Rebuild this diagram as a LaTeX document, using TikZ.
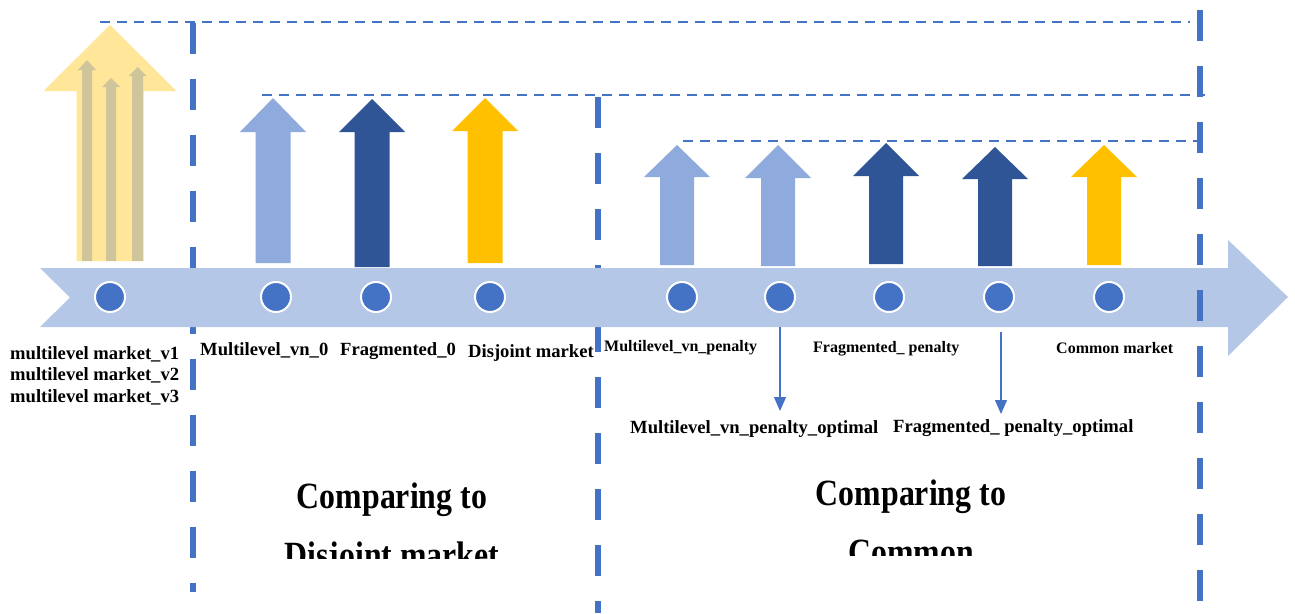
\documentclass[tikz,border=0pt]{standalone}
\usepackage{fontspec}
\setmainfont{Liberation Serif}
\usetikzlibrary{arrows.meta}
\definecolor{bandc}{HTML}{B4C7E7}
\definecolor{dotc}{HTML}{4472C4}
\definecolor{lightc}{HTML}{8FAADC}
\definecolor{darkc}{HTML}{2F5597}
\definecolor{goldc}{HTML}{FFC000}
\definecolor{palec}{HTML}{FFE699}
\definecolor{tanc}{HTML}{CFC59B}
% block arrow: color, cx, tip y, head base y, bottom y, shaft half, head half
\newcommand{\blockup}[7]{%
  \fill[#1] (#2-#6,#5) -- (#2-#6,#4) -- (#2-#7,#4) -- (#2,#3) -- (#2+#7,#4) -- (#2+#6,#4) -- (#2+#6,#5) -- cycle;}
\begin{document}
\begin{tikzpicture}[x=1pt,y=-1pt,
  dot/.style={circle,fill=dotc,draw=white,line width=2pt,minimum size=30pt,inner sep=0pt},
  lbl/.style={font=\bfseries\fontsize{18.6}{21.7}\selectfont,inner sep=0pt,align=left},
  slbl/.style={font=\bfseries\fontsize{16}{18}\selectfont,inner sep=0pt},
  big/.style={font=\bfseries\fontsize{37}{59}\selectfont,inner sep=0pt,align=center,xscale=0.86},
  vdash/.style={draw=dotc,line width=6pt,dash pattern=on 31pt off 25pt},
  hdash/.style={draw=dotc,line width=2.5pt,dash pattern=on 10pt off 7pt},
  thinarr/.style={draw=dotc,line width=1.2pt,-{Triangle[length=14pt,width=12pt]}}]
\useasboundingbox (0,0) rectangle (1295,613);

% horizontal dashed guide lines
\draw[hdash] (100,22) -- (1190,22);
\draw[hdash] (262,95) -- (1205,95);
\draw[hdash] (683,141) -- (1200,141);

% left and middle vertical dashed lines (behind band)
\draw[vdash] (193,23) -- (193,592);
\draw[vdash] (598,97) -- (598,613);

% timeline band
\fill[bandc] (40,268) -- (1228,268) -- (1228,240) -- (1288,297) -- (1228,356) -- (1228,327) -- (40,327) -- (70,297.5) -- cycle;

% right vertical dashed line (on top)
\draw[vdash] (1200,10) -- (1200,613);

% big pale arrow with inner thin arrows
\blockup{palec}{110}{25}{91}{261}{33.5}{66.5}
\blockup{tanc}{87}{60}{70}{261}{5}{9}
\blockup{tanc}{111}{78}{87}{261}{5}{9}
\blockup{tanc}{137.5}{67}{76}{261}{5.5}{9}

% upward block arrows
\blockup{lightc}{273}{98}{132}{263}{17.5}{33}
\blockup{darkc}{372}{99}{132}{267}{17.5}{33}
\blockup{goldc}{485}{98}{131}{263}{17.5}{33}
\blockup{lightc}{677}{145}{177}{265}{17}{33}
\blockup{lightc}{778}{145}{178}{266}{17}{33}
\blockup{darkc}{886}{143}{176}{264}{17}{33}
\blockup{darkc}{995}{147}{179}{266}{17}{33}
\blockup{goldc}{1104}{145}{177}{265}{17}{33}

% dots
\node[dot] (d1) at (110,297) {};
\node[dot] (d2) at (276,297) {};
\node[dot] (d3) at (376,297) {};
\node[dot] (d4) at (490,297) {};
\node[dot] (d5) at (682,297) {};
\node[dot] (d6) at (780,297) {};
\node[dot] (d7) at (889,297) {};
\node[dot] (d8) at (999,297) {};
\node[dot] (d9) at (1109,297) {};

% labels
\node[lbl,anchor=north west] (l1) at (10,346) {multilevel market\_v1\\multilevel market\_v2\\multilevel market\_v3};
\node[lbl,anchor=base west] (l2) at (200,355) {Multilevel\_vn\_0};
\node[lbl,anchor=base west] (l3) at (340,355) {Fragmented\_0};
\node[lbl,anchor=base west] (l4) at (468,357) {Disjoint market};
\node[slbl,anchor=base west] (l5) at (604,351) {Multilevel\_vn\_penalty};
\node[slbl,anchor=base west] (l6) at (813,352) {Fragmented\_ penalty};
\node[slbl,anchor=base west] (l7) at (1056,353) {Common market};
\node[lbl,anchor=base west] (o1) at (630,433) {Multilevel\_vn\_penalty\_optimal};
\node[lbl,anchor=base west] (o2) at (893,432) {Fragmented\_ penalty\_optimal};

% small down arrows
\coordinate (a1s) at (780,327);
\coordinate (a1e) at (780,411);
\coordinate (a2s) at (1001,332);
\coordinate (a2e) at (1001,414);
\draw[thinarr] (a1s) -- (a1e);
\draw[thinarr] (a2s) -- (a2e);

% section titles (clipped)
\begin{scope}
\clip (250,450) rectangle (560,558);
\node[big,anchor=north] (t1) at (392,482.5) {Comparing to\\Disjoint market};
\end{scope}
\begin{scope}
\clip (760,450) rectangle (1080,555);
\node[big,anchor=north] (t2) at (911,479.5) {Comparing to\\Common};
\end{scope}
\end{tikzpicture}
\end{document}
